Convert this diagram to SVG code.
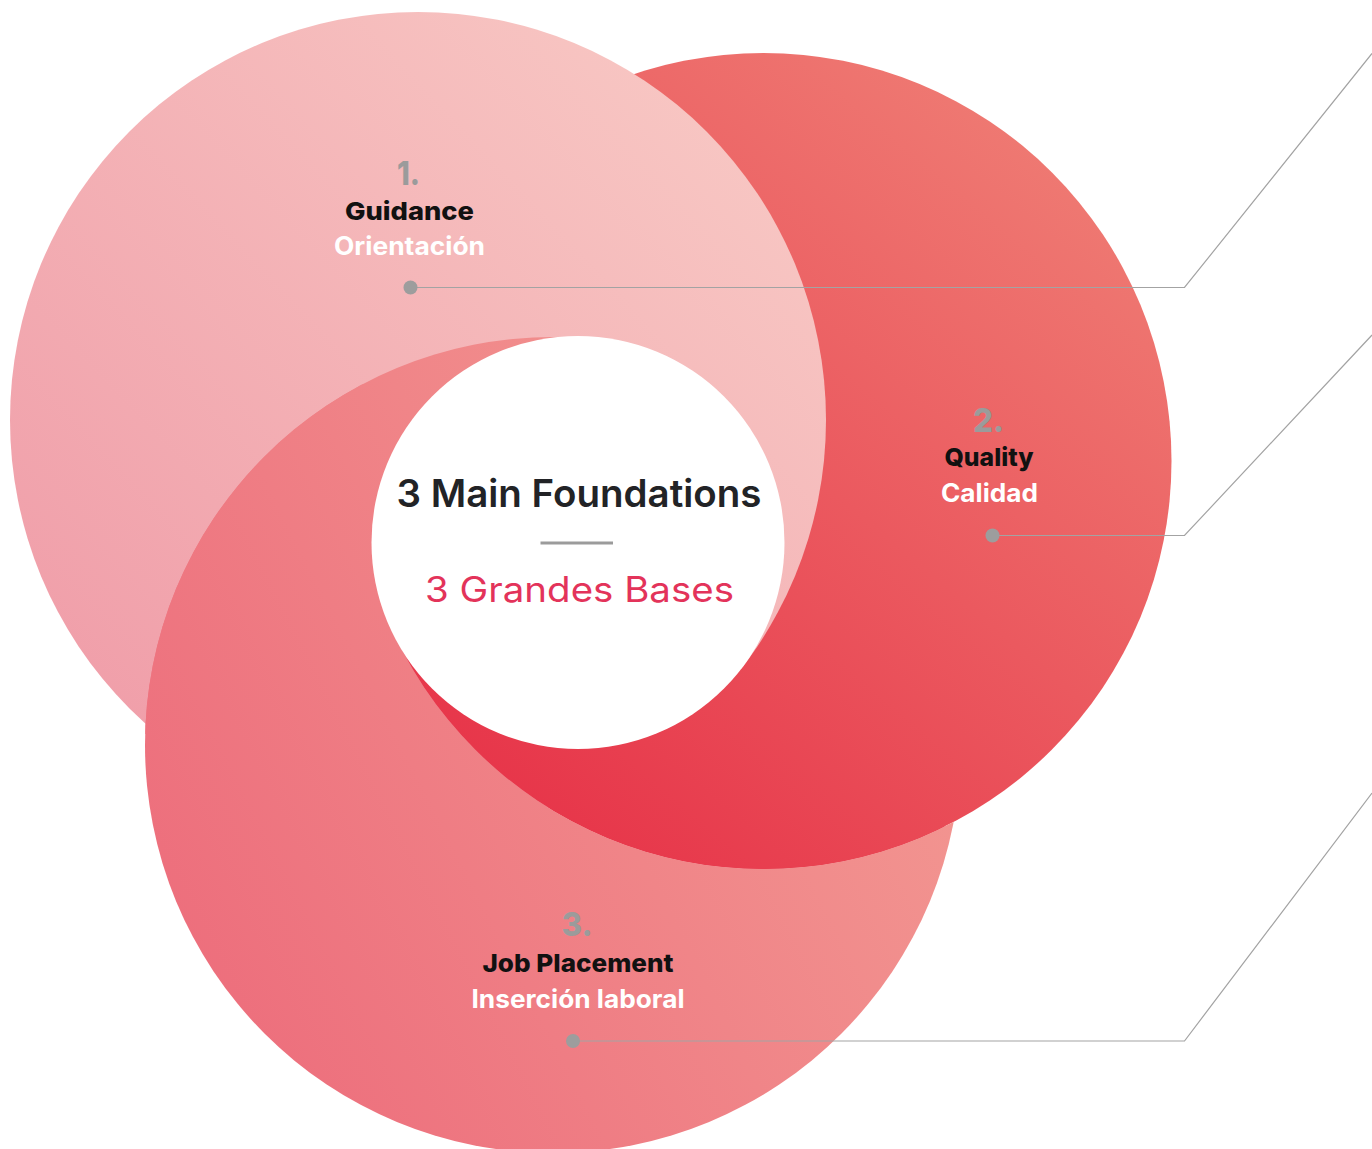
<svg xmlns="http://www.w3.org/2000/svg" width="1372" height="1149" viewBox="0 0 1372 1149">
<style>
.num{font-family:Inter,"Liberation Sans",sans-serif;font-weight:800;font-size:33px;fill:#9b9b9b;text-anchor:middle}
.en{font-family:Inter,"Liberation Sans",sans-serif;font-weight:800;font-size:25px;fill:#111;text-anchor:middle}
.es{font-family:Inter,"Liberation Sans",sans-serif;font-weight:700;font-size:25px;fill:#fff;text-anchor:middle}
.lead{fill:none;stroke:#a3a3a3;stroke-width:1.2}
.dot{fill:#9d9d9d}
</style>
<defs>
<linearGradient id="g1" gradientUnits="userSpaceOnUse" x1="760" y1="90" x2="90" y2="720">
<stop offset="0" stop-color="#F8C8C4"/><stop offset="1" stop-color="#F09EA9"/>
</linearGradient>
<linearGradient id="g2" gradientUnits="userSpaceOnUse" x1="1080" y1="130" x2="520" y2="800">
<stop offset="0" stop-color="#EF7C74"/><stop offset="1" stop-color="#E7364A"/>
</linearGradient>
<linearGradient id="g3" gradientUnits="userSpaceOnUse" x1="900" y1="700" x2="220" y2="1050">
<stop offset="0" stop-color="#F29490"/><stop offset="1" stop-color="#ED6E7C"/>
</linearGradient>
<mask id="not2" maskUnits="userSpaceOnUse" x="0" y="0" width="1372" height="1149">
<rect width="1372" height="1149" fill="#fff"/>
<circle cx="763.5" cy="461" r="408" fill="#000"/>
</mask>
<clipPath id="sec12"><polygon points="578,543 -362,958 578,1800 1393,1173"/></clipPath>
<clipPath id="sec23"><polygon points="578,543 703,-472 -900,-600 -362,958"/></clipPath>
</defs>

<g id="rings">
<circle id="circle-quality" cx="763.5" cy="461" r="408" fill="url(#g2)"/>
<circle id="circle-guidance" cx="418" cy="420" r="408" fill="url(#g1)"/>
<circle id="circle-job" cx="553" cy="745" r="408" fill="url(#g3)" mask="url(#not2)"/>
<circle cx="763.5" cy="461" r="408" fill="url(#g2)" clip-path="url(#sec12)"/>
<circle cx="553" cy="745" r="408" fill="url(#g3)" clip-path="url(#sec23)"/>
</g>

<g id="connectors">
<polyline class="lead" points="410,287.5 1184.5,287.5 1372,53.5"/>
<polyline class="lead" points="992,535.5 1184.5,535.5 1372,335"/>
<polyline class="lead" points="573,1041 1184.5,1041 1372,793"/>
</g>

<g id="center">
<circle cx="578" cy="542.5" r="206.5" fill="#fff"/>
<text x="579" y="507" font-family="Inter,'Liberation Sans',sans-serif" font-weight="600" font-size="38" fill="#222326" text-anchor="middle" textLength="365" lengthAdjust="spacingAndGlyphs">3 Main Foundations</text>
<line x1="540.5" y1="543" x2="613" y2="543" stroke="#9b9b9b" stroke-width="3"/>
<text x="579.5" y="602" font-family="Inter,'Liberation Sans',sans-serif" font-weight="400" font-size="35" fill="#E3335A" text-anchor="middle" textLength="309" lengthAdjust="spacingAndGlyphs">3 Grandes Bases</text>
</g>

<g id="node-guidance">
<text class="num" x="408.5" y="185" textLength="23" lengthAdjust="spacingAndGlyphs">1.</text>
<text class="en" x="409.5" y="219.5" textLength="129" lengthAdjust="spacingAndGlyphs">Guidance</text>
<text class="es" x="409.5" y="255" textLength="151" lengthAdjust="spacingAndGlyphs">Orientación</text>
<circle class="dot" cx="410.5" cy="287.5" r="7"/>
</g>

<g id="node-quality">
<text class="num" x="988.5" y="431.5" textLength="31" lengthAdjust="spacingAndGlyphs">2.</text>
<text class="en" x="989" y="465.5" textLength="89" lengthAdjust="spacingAndGlyphs">Quality</text>
<text class="es" x="989.5" y="501.5" textLength="97" lengthAdjust="spacingAndGlyphs">Calidad</text>
<circle class="dot" cx="992.5" cy="535.5" r="7"/>
</g>

<g id="node-job">
<text class="num" x="577" y="936" textLength="31" lengthAdjust="spacingAndGlyphs">3.</text>
<text class="en" x="578" y="972" textLength="191" lengthAdjust="spacingAndGlyphs">Job Placement</text>
<text class="es" x="578" y="1008" textLength="213" lengthAdjust="spacingAndGlyphs">Inserción laboral</text>
<circle class="dot" cx="573" cy="1041" r="7"/>
</g>
</svg>
